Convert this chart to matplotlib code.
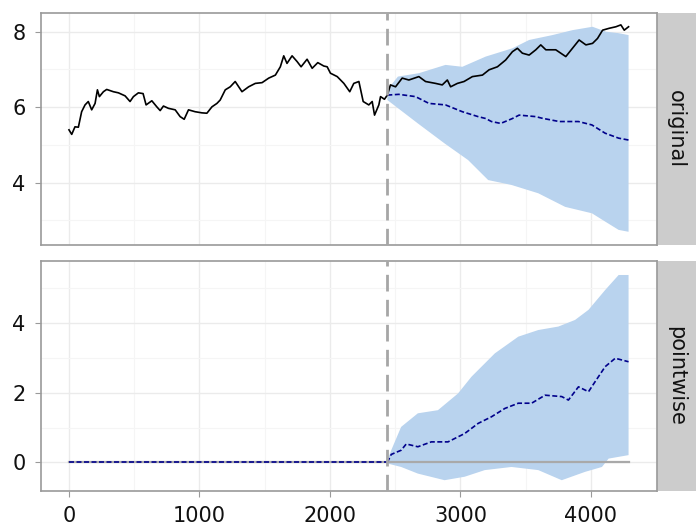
import numpy as np
import matplotlib
matplotlib.use("Agg")
import matplotlib.pyplot as plt

# ===================== DATOS =====================
obs_x = [0, 21, 46, 72, 97, 123, 148, 174, 200, 218, 233, 264, 289, 340, 379, 430,
         468, 494, 532, 568, 591, 635, 673, 699, 724, 762, 814, 852, 883, 916, 967,
         1019, 1057, 1096, 1134, 1159, 1198, 1236, 1274, 1326, 1377, 1428, 1480, 1531,
         1582, 1620, 1646, 1671, 1710, 1748, 1779, 1825, 1864, 1907, 1953, 1979, 2004,
         2056, 2107, 2152, 2183, 2222, 2255, 2298, 2324, 2342, 2375, 2388, 2418, 2440,
         2464, 2503, 2554, 2605, 2682, 2733, 2810, 2861, 2900, 2925, 2977, 3028, 3092,
         3169, 3220, 3284, 3347, 3399, 3437, 3475, 3527, 3578, 3616, 3655, 3731, 3808,
         3859, 3910, 3962, 4013, 4051, 4090, 4141, 4192, 4230, 4256, 4289]
obs_y = [5.40, 5.28, 5.48, 5.47, 5.88, 6.06, 6.15, 5.93, 6.10, 6.46, 6.28, 6.41, 6.47,
         6.41, 6.38, 6.30, 6.15, 6.28, 6.38, 6.36, 6.06, 6.17, 6.01, 5.91, 6.03, 5.97,
         5.93, 5.75, 5.68, 5.93, 5.88, 5.85, 5.84, 6.01, 6.10, 6.19, 6.46, 6.54, 6.68,
         6.41, 6.54, 6.63, 6.65, 6.77, 6.85, 7.07, 7.36, 7.16, 7.36, 7.21, 7.07, 7.27,
         7.03, 7.18, 7.09, 7.07, 6.90, 6.81, 6.63, 6.41, 6.63, 6.68, 6.15, 6.06, 6.15,
         5.79, 6.06, 6.28, 6.21, 6.32, 6.59, 6.54, 6.77, 6.72, 6.81, 6.68, 6.63, 6.59,
         6.72, 6.54, 6.63, 6.68, 6.81, 6.85, 6.99, 7.07, 7.25, 7.47, 7.56, 7.43, 7.38,
         7.52, 7.65, 7.52, 7.52, 7.34, 7.56, 7.78, 7.65, 7.69, 7.82, 8.04, 8.09, 8.13,
         8.18, 8.04, 8.13]

# prediccion (post-periodo)
pred_x = [2440, 2528, 2656, 2759, 2886, 3015, 3136, 3194, 3238, 3309, 3399, 3450, 3578,
          3623, 3757, 3905, 4008, 4110, 4213, 4289]
pred_y = [6.32, 6.34, 6.28, 6.10, 6.06, 5.88, 5.75, 5.70, 5.62, 5.57, 5.70, 5.79, 5.75,
          5.71, 5.62, 5.62, 5.53, 5.31, 5.18, 5.13]

up_x = [2440, 2521, 2682, 2886, 3015, 3194, 3399, 3527, 3706, 3859, 4013, 4115, 4213, 4289]
up_y = [6.46, 6.81, 6.90, 7.12, 7.07, 7.34, 7.56, 7.78, 7.91, 8.04, 8.13, 8.00, 7.96, 7.91]
lo_x = [2440, 2674, 2879, 3059, 3213, 3392, 3597, 3803, 4008, 4110, 4213, 4289]
lo_y = [6.19, 5.57, 5.04, 4.60, 4.07, 3.94, 3.72, 3.36, 3.19, 2.97, 2.75, 2.70]

# efecto puntual
pw_pre_x = [0, 2440]
pw_pre_y = [0.0, 0.0]
pw_x = [2440, 2470, 2546, 2585, 2674, 2777, 2905, 3033, 3136, 3238, 3341, 3444, 3546,
        3649, 3777, 3828, 3905, 3982, 4033, 4110, 4187, 4238, 4289]
pw_y = [0.00, 0.23, 0.35, 0.53, 0.45, 0.59, 0.59, 0.83, 1.12, 1.31, 1.55, 1.70, 1.70,
        1.93, 1.89, 1.79, 2.17, 2.03, 2.32, 2.75, 2.99, 2.94, 2.89]
pw_up_x = [2440, 2470, 2546, 2674, 2828, 2982, 3085, 3264, 3444, 3597, 3751, 3879, 3982,
           4110, 4213, 4289]
pw_up_y = [0.05, 0.35, 1.02, 1.41, 1.50, 1.98, 2.46, 3.13, 3.61, 3.80, 3.90, 4.09, 4.38,
           4.95, 5.38, 5.38]
pw_lo_x = [2440, 2546, 2674, 2879, 3033, 3187, 3392, 3597, 3777, 3956, 4085, 4136, 4289]
pw_lo_y = [-0.03, -0.13, -0.32, -0.51, -0.41, -0.22, -0.13, -0.22, -0.51, -0.27, -0.13,
           0.11, 0.21]

intervencion = 2440
n_total = 4289
paneles = ["original", "pointwise"]

# ===================== ESTILO =====================
COL_BANDA = "#B9D3EE"
COL_MEDIA = "#00008B"
COL_BORDE = "#9A9A9A"
COL_STRIP = "#CCCCCC"
COL_TEXTO = "#111111"


def banda(ax, xa, ya, xb, yb):
    # poligono: borde superior y luego el inferior al reves
    poly_x = list(xa) + list(xb)[::-1]
    poly_y = list(ya) + list(yb)[::-1]
    ax.fill(poly_x, poly_y, color=COL_BANDA, lw=0, zorder=1)


def estilo_panel(ax, yticks, yminor, ylim, etiqueta, strip_pos):
    ax.set_xlim(-214.5, 4504.5)
    ax.set_ylim(*ylim)
    ax.set_xticks([0, 1000, 2000, 3000, 4000])
    ax.set_xticks([500, 1500, 2500, 3500, 4500], minor=True)
    ax.set_yticks(yticks)
    ax.set_yticks(yminor, minor=True)
    ax.grid(True, which="major", color="#EBEBEB", lw=1.0, zorder=0)
    ax.grid(True, which="minor", color="#F5F5F5", lw=0.8, zorder=0)
    ax.set_axisbelow(True)
    for s in ax.spines.values():
        s.set_color(COL_BORDE)
        s.set_linewidth(1.2)
    ax.spines["right"].set_visible(False)
    ax.tick_params(which="major", length=4, color=COL_BORDE, labelsize=15,
                   labelcolor=COL_TEXTO, pad=7)
    ax.tick_params(which="minor", length=0)
    ax.axvline(intervencion, color="#A6A6A6", lw=2, dashes=(6, 3), zorder=4)

    sax = fig.add_axes(strip_pos)
    sax.set_facecolor(COL_STRIP)
    sax.set_xticks([])
    sax.set_yticks([])
    for s in sax.spines.values():
        s.set_visible(False)
    sax.spines["left"].set_visible(True)
    sax.spines["left"].set_color(COL_BORDE)
    sax.spines["left"].set_linewidth(1.2)
    sax.text(0.5, 0.5, etiqueta, rotation=270, ha="center", va="center",
             fontsize=15, color=COL_TEXTO, transform=sax.transAxes)


fig = plt.figure(figsize=(6.96, 5.27), dpi=100)
fig.patch.set_facecolor("white")

L, W = 0.0589, 0.8846
ax1 = fig.add_axes([L, 0.5351, W, 0.4397])
ax2 = fig.add_axes([L, 0.0683, W, 0.4370])

# ----- panel original -----
banda(ax1, up_x, up_y, lo_x, lo_y)
ax1.plot(pred_x, pred_y, color=COL_MEDIA, lw=1.2, dashes=(3, 1.5), zorder=3)
ax1.plot(obs_x, obs_y, color="black", lw=1.2, zorder=3)
estilo_panel(ax1, [4, 6, 8], [3, 5, 7], (2.35, 8.487), paneles[0],
             [L + W, 0.5351, 1 - (L + W), 0.4397])
ax1.tick_params(axis="x", labelbottom=False, length=0)

# ----- panel pointwise -----
banda(ax2, pw_up_x, pw_up_y, pw_lo_x, pw_lo_y)
ax2.plot([0, n_total], [0, 0], color="#A9A9A9", lw=1.6, zorder=2)
ax2.plot(pw_pre_x, pw_pre_y, color=COL_MEDIA, lw=1.2, dashes=(3, 1.5), zorder=3)
ax2.plot(pw_x, pw_y, color=COL_MEDIA, lw=1.2, dashes=(3, 1.5), zorder=3)
estilo_panel(ax2, [0, 2, 4], [1, 3, 5], (-0.82, 5.79), paneles[1],
             [L + W, 0.0683, 1 - (L + W), 0.4370])
ax2.tick_params(axis="x", pad=7)

fig.savefig("out.png", dpi=100, facecolor=fig.get_facecolor())
